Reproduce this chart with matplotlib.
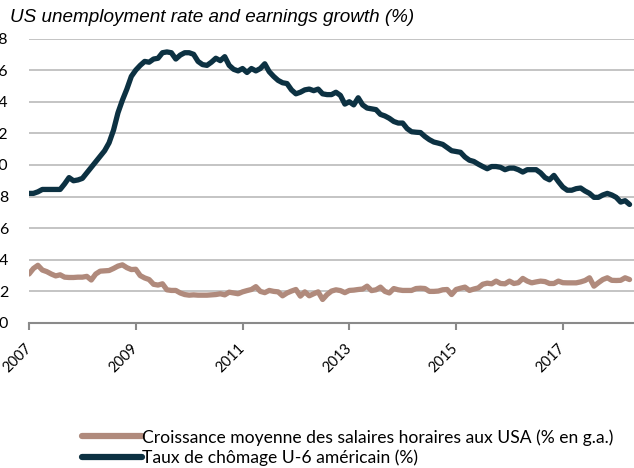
import matplotlib
matplotlib.use("Agg")
import matplotlib.pyplot as plt
import matplotlib.transforms as mtransforms
import numpy as np

# Monthly data, Jan 2007 - Apr 2018
start_year = 2007
u6 = [8.2, 8.2, 8.3, 8.45, 8.45, 8.45, 8.45, 8.45, 8.8, 9.2, 9.0, 9.05,
      9.15, 9.5, 9.85, 10.2, 10.55, 10.9, 11.4, 12.2, 13.3, 14.1, 14.8, 15.6,
      16.0, 16.3, 16.55, 16.5, 16.7, 16.75, 17.1, 17.15, 17.1, 16.7, 16.95, 17.1,
      17.1, 17.0, 16.55, 16.35, 16.3, 16.5, 16.75, 16.6, 16.85, 16.3, 16.05, 15.95,
      16.1, 15.85, 16.1, 15.95, 16.1, 16.4, 15.9, 15.6, 15.35, 15.2, 15.15, 14.75,
      14.5, 14.6, 14.75, 14.8, 14.7, 14.8, 14.5, 14.45, 14.45, 14.6, 14.4, 13.85,
      14.0, 13.8, 14.25, 13.8, 13.6, 13.55, 13.5, 13.2, 13.1, 12.95, 12.75, 12.65,
      12.65, 12.3, 12.1, 12.07, 12.05, 11.8, 11.6, 11.45, 11.38, 11.3, 11.1, 10.9,
      10.85, 10.8, 10.5, 10.3, 10.22, 10.05, 9.9, 9.76, 9.9, 9.9, 9.85, 9.7,
      9.8, 9.8, 9.7, 9.55, 9.7, 9.7, 9.7, 9.5, 9.2, 9.06, 9.34, 8.95,
      8.6, 8.4, 8.4, 8.5, 8.54, 8.35, 8.2, 7.95, 7.95, 8.1, 8.2, 8.1,
      7.95, 7.65, 7.74, 7.5]
wages = [3.1, 3.45, 3.65, 3.35, 3.25, 3.1, 2.98, 3.05, 2.9, 2.88, 2.88, 2.9,
         2.9, 2.95, 2.72, 3.1, 3.28, 3.3, 3.32, 3.45, 3.6, 3.68, 3.5, 3.38,
         3.4, 3.0, 2.85, 2.75, 2.45, 2.4, 2.48, 2.1, 2.06, 2.06, 1.9, 1.8,
         1.76, 1.78, 1.76, 1.76, 1.76, 1.78, 1.8, 1.85, 1.78, 1.95, 1.9, 1.85,
         1.97, 2.05, 2.12, 2.3, 2.0, 1.92, 2.06, 2.0, 1.97, 1.72, 1.9, 2.02,
         2.12, 1.7, 1.97, 1.72, 1.85, 1.97, 1.49, 1.8, 2.02, 2.1, 2.05, 1.92,
         2.06, 2.08, 2.12, 2.15, 2.33, 2.05, 2.1, 2.27, 2.0, 1.9, 2.18, 2.1,
         2.06, 2.06, 2.06, 2.18, 2.2, 2.18, 2.0, 2.0, 2.02, 2.1, 2.12, 1.8,
         2.12, 2.2, 2.27, 2.06, 2.15, 2.22, 2.45, 2.52, 2.48, 2.65, 2.5, 2.48,
         2.65, 2.5, 2.55, 2.82, 2.65, 2.54, 2.6, 2.65, 2.62, 2.5, 2.5, 2.65,
         2.55, 2.54, 2.54, 2.54, 2.6, 2.69, 2.86, 2.33, 2.55, 2.75, 2.86, 2.7,
         2.69, 2.7, 2.86, 2.75]
x_ticks = [2007, 2009, 2011, 2013, 2015, 2017]
y_ticks = [0, 2, 4, 6, 8, 10, 12, 14, 16, 18]
title = "US unemployment rate and earnings growth (%)"
label_wages = "Croissance moyenne des salaires horaires aux USA (% en g.a.)"
label_u6 = "Taux de chômage U-6 américain (%)"

x = start_year + np.arange(len(u6)) / 12.0

W, H = 634, 468
fig = plt.figure(figsize=(W / 100, H / 100), dpi=100)
left, right, bottom, top = 29, 634, 323, 38.5
ax = fig.add_axes([left / W, (H - bottom) / H, (right - left) / W, (bottom - top) / H])

c_dark = "#0c3142"
c_brown = "#b08a7c"
ax.plot(x, wages, color=c_brown, lw=3.8, solid_joinstyle="round", solid_capstyle="round", label=label_wages, zorder=3)
ax.plot(x, u6, color=c_dark, lw=3.8, solid_joinstyle="round", solid_capstyle="round", label=label_u6, zorder=4)

ax.set_xlim(2007, 2007 + 136 / 12.0)
ax.set_ylim(0, 18)
ax.set_yticks(y_ticks)
ax.set_xticks(x_ticks)
ax.grid(axis="y", color="#c4c4c4", lw=1.4)
ax.set_axisbelow(True)
for s in ["left", "right", "top"]:
    ax.spines[s].set_visible(False)
ax.spines["bottom"].set_color("#8a8a8a")
ax.spines["bottom"].set_linewidth(1.5)
ax.tick_params(axis="y", length=0, pad=15, labelsize=11.5)
ax.tick_params(axis="x", length=5, width=1.5, color="#8a8a8a", pad=8, labelsize=10.5)
for lab in ax.get_yticklabels():
    lab.set_fontfamily("Lato")
offset = mtransforms.ScaledTranslation(5 / 100, 0, fig.dpi_scale_trans)
for lab in ax.get_xticklabels():
    lab.set_fontfamily("Lato")
    lab.set_rotation(45)
    lab.set_ha("right")
    lab.set_va("top")
    lab.set_transform(lab.get_transform() + offset)

fig.text(10 / W, 1 - 17 / H, title, fontsize=13.6, style="italic",
         family="Liberation Sans", va="center", ha="left")

handles, labels = ax.get_legend_handles_labels()
leg = fig.legend(handles, labels, loc="upper left",
                 bbox_to_anchor=(82 / W, 1 - 429 / H), frameon=False,
                 prop={"family": "Lato", "size": 12.6}, handlelength=3.4,
                 handletextpad=0.05, labelspacing=0.2, borderpad=0, borderaxespad=0)
for line in leg.get_lines():
    line.set_linewidth(4.5)

fig.savefig("out.png", dpi=100)
